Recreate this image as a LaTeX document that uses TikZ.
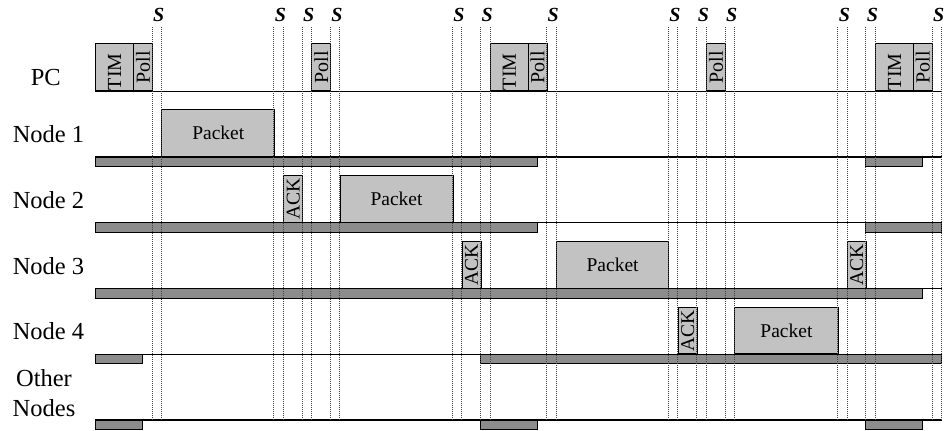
\documentclass[tikz,border=0pt]{standalone}
\usepackage{fontspec}
\setmainfont{Liberation Serif}
\definecolor{boxgray}{gray}{0.76}
\definecolor{bargray}{gray}{0.55}
\definecolor{dotgray}{gray}{0.25}
\begin{document}
\begin{tikzpicture}[x=1pt,y=-1pt,
  pbox/.style={draw=black, line width=0.9pt, fill=boxgray, inner sep=0pt,
    anchor=south west, minimum height=47pt, font=\fontsize{20}{22}\selectfont},
  nbox/.style={pbox, minimum height=46.7pt, font=\fontsize{19.5}{21}\selectfont},
  timw/.style={minimum width=37.7pt},
  pollw/.style={minimum width=18.8pt},
  bar/.style={draw=black, line width=0.9pt, fill=bargray},
  baseline/.style={draw=black, line width=1.1pt},
  dotline/.style={draw=dotgray, line width=0.6pt, dash pattern=on 1pt off 1pt},
  rowlabel/.style={font=\fontsize{24.5}{30}\selectfont, align=center, inner sep=0pt},
  slabel/.style={font=\fontsize{20}{22}\selectfont\bfseries\itshape, inner sep=0pt}]
\useasboundingbox (0,0) rectangle (945,431);

% row labels
\node[rowlabel] (lpc) at (45.8,78) {PC};
\node[rowlabel] (l1) at (48.5,134) {Node 1};
\node[rowlabel] (l2) at (48.5,200) {Node 2};
\node[rowlabel] (l3) at (48.5,266) {Node 3};
\node[rowlabel] (l4) at (48.5,331.5) {Node 4};
\node[rowlabel] (lo) at (44,393) {Other\\Nodes};

% bars
\draw[bar] (95,157) rectangle (537,166.5);
\draw[bar] (865.7,157) rectangle (922.3,166.5);
\draw[bar] (95,222.7) rectangle (537,232.2);
\draw[bar] (865.7,222.7) rectangle (941.5,232.2);
\draw[bar] (95,288.5) rectangle (922.3,298);
\draw[bar] (95,354.3) rectangle (142.7,363.8);
\draw[bar] (480.7,354.3) rectangle (941.5,363.8);
\draw[bar] (95,420) rectangle (142.7,429.5);
\draw[bar] (480.7,420) rectangle (537.3,429.5);
\draw[bar] (865.7,420) rectangle (922.3,429.5);

% baselines
\draw[baseline] (95,91.3) -- (941.5,91.3);
\draw[baseline] (95,157) -- (941.5,157);
\draw[baseline] (95,222.7) -- (941.5,222.7);
\draw[baseline] (95,288.5) -- (941.5,288.5);
\draw[baseline] (95,354.3) -- (941.5,354.3);
\draw[baseline] (95,420) -- (941.5,420);

% PC boxes
\node[pbox, timw] (tim1) at (95.4,91.3) {\rotatebox{90}{TIM\hspace{9pt}}};
\node[pbox, pollw] (poll1) at (133.3,91.3) {\rotatebox{90}{Poll}};
\node[pbox, pollw] (poll2) at (311.4,91.3) {\rotatebox{90}{Poll}};
\node[pbox, timw] (tim2) at (490,91.3) {\rotatebox{90}{TIM\hspace{9pt}}};
\node[pbox, pollw] (poll3) at (527.7,91.3) {\rotatebox{90}{Poll}};
\node[pbox, pollw] (poll4) at (706.3,91.3) {\rotatebox{90}{Poll}};
\node[pbox, timw] (tim3) at (875.2,91.3) {\rotatebox{90}{TIM\hspace{9pt}}};
\node[pbox, pollw] (poll5) at (912.9,91.3) {\rotatebox{90}{Poll}};

% Node 1
\node[nbox, minimum width=113pt] (pk1) at (161.3,157) {Packet};
% Node 2
\node[nbox, pollw] (ack2) at (283.3,222.7) {\rotatebox{90}{ACK}};
\node[nbox, minimum width=113.2pt] (pk2) at (339.5,222.7) {Packet};
% Node 3
\node[nbox, pollw] (ack3a) at (461.7,288.5) {\rotatebox{90}{ACK}};
\node[nbox, minimum width=112.3pt] (pk3) at (556,288.5) {Packet};
\node[nbox, pollw] (ack3b) at (847,288.5) {\rotatebox{90}{ACK}};
% Node 4
\node[nbox, minimum width=19pt] (ack4) at (677.7,354.3) {\rotatebox{90}{ACK}};
\node[nbox, minimum width=103.4pt] (pk4) at (734.3,354.3) {Packet};

% dotted slot lines
\foreach \x in {152,161.3,273.7,283.3,302,311.3,330.3,339.7,452.3,461.7,480.3,490,546.3,556,668.3,677.7,696.7,706.3,725,734.3,837.7,847,865.7,875.3,932,941.3}
  \draw[dotline] (\x,27) -- (\x,420);

% S labels
\foreach \x [count=\i] in {156.7,278.5,306.7,335,457,485.2,551.2,673,701.5,729.7,842.4,870.5,936.7}
  \node[slabel] (s\i) at (\x+2,15) {S};
\end{tikzpicture}
\end{document}
